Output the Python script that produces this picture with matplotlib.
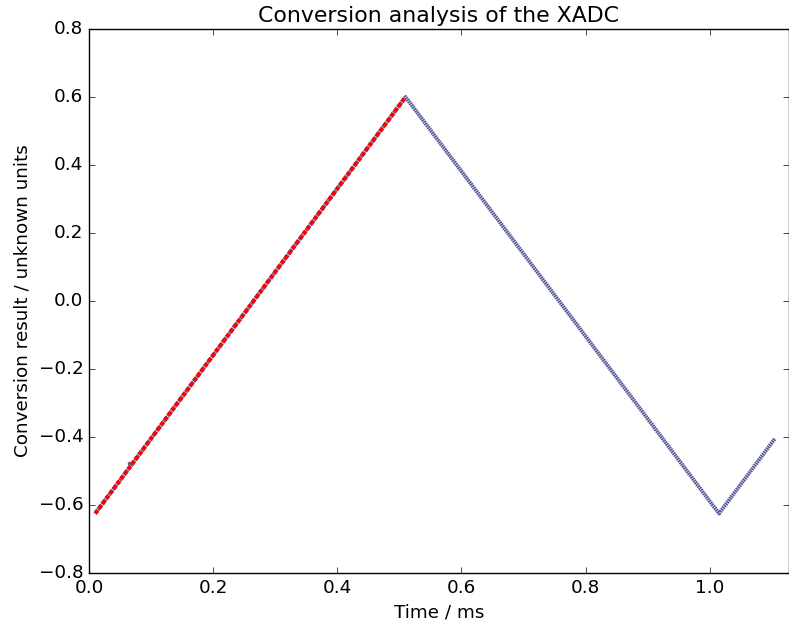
import matplotlib
matplotlib.use("Agg")
import matplotlib.pyplot as plt

# triangle-wave conversion samples (vertices of the measured signal)
time_ms = [0.01, 0.51, 1.015, 1.105]
values = [-0.625, 0.60, -0.625, -0.405]
# stray sample
outlier_t = [0.064]
outlier_v = [-0.476]
# linear fit over rising edge
fit_t = [0.01, 0.51]
fit_v = [-0.625, 0.60]

xticks = [0.0, 0.2, 0.4, 0.6, 0.8, 1.0]
yticks = [-0.8, -0.6, -0.4, -0.2, 0.0, 0.2, 0.4, 0.6, 0.8]

plt.style.use("classic")
plt.rcParams["font.family"] = ["DejaVu Sans"]

fig = plt.figure(figsize=(7.89, 6.3), dpi=100, facecolor="white")
ax = fig.add_axes([89 / 789, 57 / 630, 699.5 / 789, 544 / 630])
ax.set_facecolor("white")

dotc = (0.34, 0.35, 0.60)
ax.plot(time_ms, values, color=dotc, linewidth=2.8, dashes=(1.2, 0.45))
ax.plot(outlier_t, outlier_v, linestyle="none", marker=".", markersize=4, color=dotc, markeredgecolor=dotc)
ax.plot(fit_t, fit_v, color="red", linewidth=3.0, dashes=(3.0, 1.4))

ax.set_xlim(0, 1.127)
ax.set_ylim(-0.8, 0.8)
ax.set_xticks(xticks)
ax.set_yticks(yticks)
ax.set_xticklabels([f"{t:.1f}" for t in xticks])
ax.set_yticklabels([f"{t:.1f}".replace("-", "\u2212") for t in yticks])
ax.tick_params(labelsize=13.2, length=4.5)

ax.set_title("Conversion analysis of the XADC", fontsize=15.8)
ax.set_xlabel("Time / ms", fontsize=13.2)
ax.set_ylabel("Conversion result / unknown units", fontsize=13.2)

fig.savefig("out.png", dpi=100, facecolor="white")
